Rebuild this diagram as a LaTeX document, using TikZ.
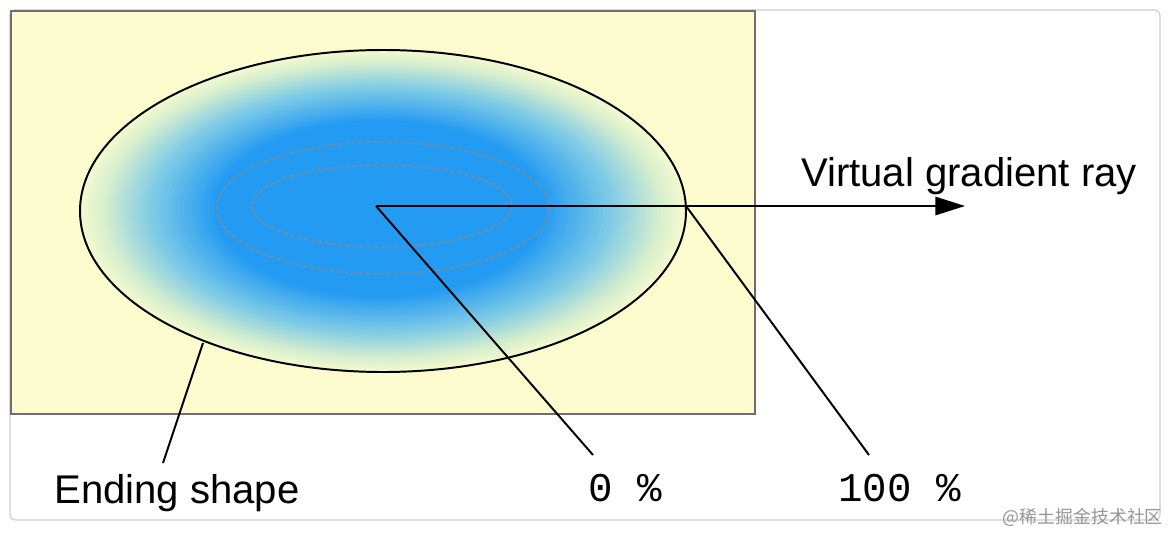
\documentclass[tikz,border=0pt]{standalone}
\usepackage{fontspec}
\setmainfont{Liberation Sans}
\setmonofont{Liberation Mono}
\newfontfamily\cjkfont{Noto Sans CJK SC}
\usepackage{xcolor}
\usetikzlibrary{positioning,arrows.meta}
\definecolor{framegray}{RGB}{205,205,205}
\definecolor{canvas}{RGB}{253,252,206}
\definecolor{canvasline}{RGB}{110,110,110}
\definecolor{gblue}{RGB}{36,155,242}
\definecolor{gcyan}{RGB}{125,202,230}
\definecolor{gpale}{RGB}{218,240,205}
\definecolor{gedge}{RGB}{245,250,208}
\definecolor{dashgray}{RGB}{140,140,140}
\definecolor{markgray}{RGB}{150,150,150}
\tikzset{
  lbl/.style={font=\fontsize{28.5}{34}\selectfont,inner sep=0pt,anchor=base west},
  pct/.style={font=\ttfamily\fontsize{29}{34}\selectfont,inner sep=0pt,anchor=base west},
  ln/.style={line width=1.4pt},
  ar/.style={-{Triangle[length=21pt,width=13pt]},line width=1.3pt},
  ring/.style={dashgray,line width=0.9pt,dash pattern=on 3pt off 2pt},
}

\begin{document}
\begin{tikzpicture}[x=0.025cm,y=-0.025cm]
  \useasboundingbox (0,0) rectangle (1170,534);
  \fill[white] (0,0) rectangle (1170,534);
  \draw[framegray,line width=0.8pt,rounded corners=3.5pt] (10,10) rectangle (1160,520);
  \filldraw[fill=canvas,draw=canvasline,line width=1pt] (11,11) rectangle (755,414);
  % ending shape with its gradient, built up ring by ring
  \foreach \a/\b/\ca/\cb in {1/0.93/gedge/gpale,0.93/0.76/gpale/gcyan,0.76/0.55/gcyan/gblue}
    \foreach \s in {0,...,15} {
      \pgfmathsetmacro\f{\a-(\a-\b)*\s/15}
      \pgfmathsetmacro\p{100*\s/15}
      \fill[\cb!\p!\ca] ({376+7*\f},{206+5*\f}) ellipse [x radius={303*\f},y radius={161*\f}];
    }
  \draw[ln] (383,211) ellipse [x radius=303,y radius=161];
  \draw[ring] (383,208) ellipse [x radius=166,y radius=66];
  \draw[ring] (382,206) ellipse [x radius=130,y radius=41];
  % points
  \coordinate (c0) at (376,206);
  \coordinate (rayend) at (965,206);
  \coordinate (hit) at (686,206);
  \coordinate (edge) at (203,343);
  \coordinate (zeroend) at (593,455);
  \coordinate (fullend) at (869,455);
  \coordinate (shapeend) at (163,463);
  % labels
  \node[lbl] (vray) at (801,186) {Virtual gradient ray};
  \node[lbl] (eshape) at (54,503) {Ending shape};
  \node[pct] (zero) at (588,501) {0 \%};
  \node[pct] (full) at (838,501) {100 \%};
  \node[font=\cjkfont\fontsize{12.7}{14}\selectfont,text=markgray,inner sep=0pt,anchor=east] (mark) at (1163,517) {@稀土掘金技术社区};
  % connectors
  \draw[ar] (c0) -- (rayend);
  \draw[ln] (c0) -- (zeroend);
  \draw[ln] (hit) -- (fullend);
  \draw[ln] (edge) -- (shapeend);
\end{tikzpicture}
\end{document}
